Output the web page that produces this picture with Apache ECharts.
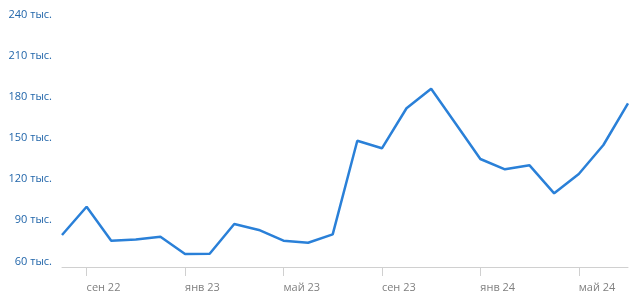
<!DOCTYPE html>
<html>
<head>
<meta charset="utf-8">
<script src="https://cdn.jsdelivr.net/npm/echarts@6/dist/echarts.min.js"></script>
<style>
html,body{margin:0;padding:0;background:#fff;}
#chart{width:636px;height:302px;}
</style>
</head>
<body>
<div id="chart"></div>
<script>
const months = ["авг 22","сен 22","окт 22","ноя 22","дек 22","янв 23","фев 23","мар 23","апр 23","май 23","июн 23","июл 23","авг 23","сен 23","окт 23","ноя 23","дек 23","янв 24","фев 24","мар 24","апр 24","май 24","июн 24","июл 24"];
const values = [83.3,103.9,79.2,80.0,82.1,69.5,69.7,91.3,87.0,79.2,77.7,83.8,152.0,146.5,175.7,189.9,164.4,138.7,131.2,134.1,113.7,127.8,148.9,179.3];
const yMin = 60, yMax = 240, yStep = 30;

const chart = echarts.init(document.getElementById('chart'));
const showIdx = (i) => i % 4 === 1;
chart.setOption({
  animation: false,
  grid: {left: 62, right: 8, top: 20, bottom: 35},
  xAxis: {
    type: 'category',
    data: months,
    boundaryGap: false,
    axisLine: {lineStyle: {color: '#d0d0d0', width: 1}},
    axisTick: {show: true, interval: showIdx, length: 9, lineStyle: {color: '#d0d0d0'}},
    axisLabel: {interval: showIdx, color: '#808080', fontFamily: 'Open Sans', fontSize: 11, margin: 15, align: 'left'}
  },
  yAxis: {
    type: 'value',
    min: yMin, max: yMax, interval: yStep,
    axisLine: {show: false},
    axisTick: {show: false},
    splitLine: {show: false},
    axisLabel: {
      formatter: (v) => v + ' тыс.',
      color: '#2266aa', fontFamily: 'Open Sans', fontSize: 11,
      margin: 10, verticalAlign: 'bottom'
    }
  },
  series: [{
    type: 'line',
    data: values,
    showSymbol: false,
    lineStyle: {color: '#2a80d8', width: 2.5},
    itemStyle: {color: '#2a80d8'}
  }]
});
</script>
</body>
</html>
